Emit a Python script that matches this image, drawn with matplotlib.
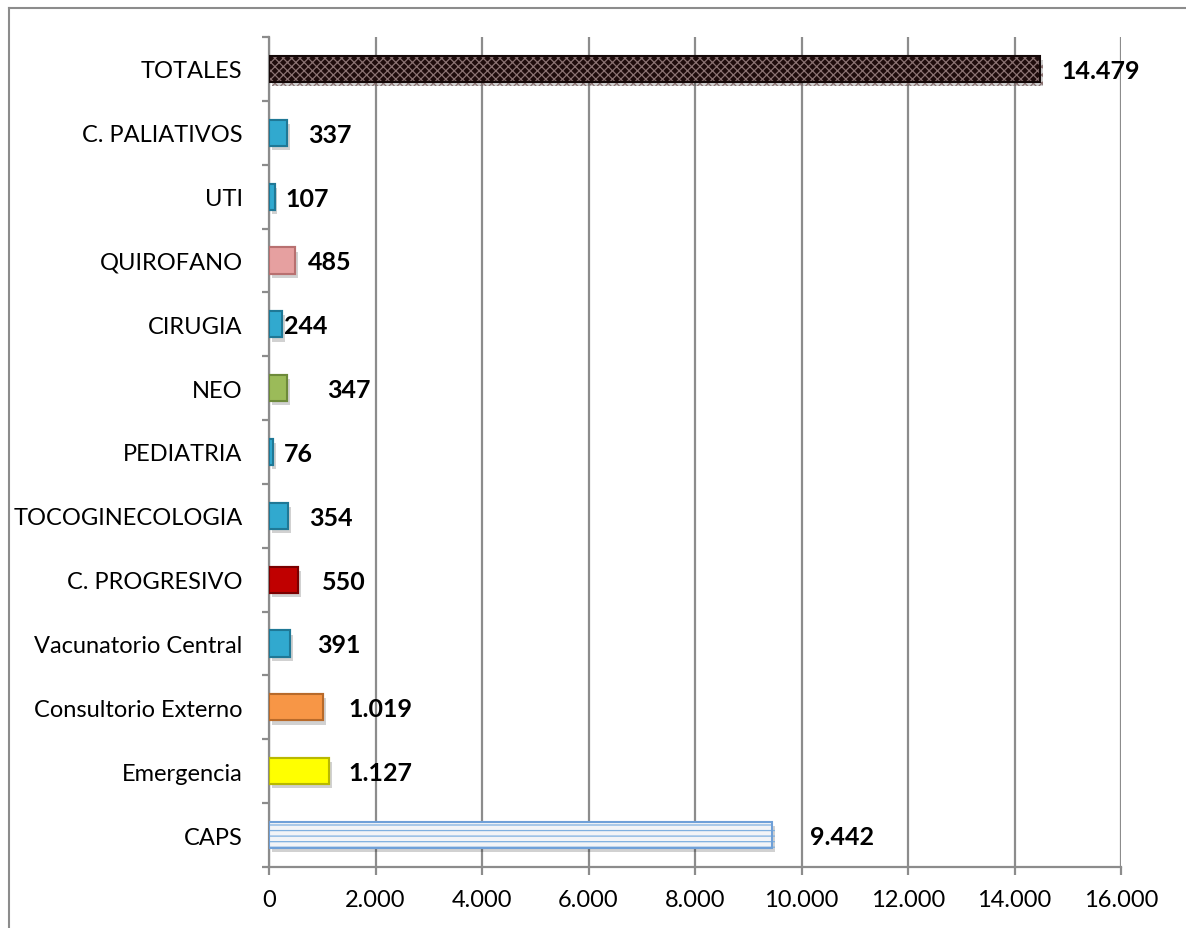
import matplotlib
matplotlib.use("Agg")
import matplotlib.pyplot as plt
import matplotlib.patheffects as pe
from matplotlib.lines import Line2D
from matplotlib.ticker import FuncFormatter, FixedLocator

categories = ["CAPS", "Emergencia", "Consultorio Externo", "Vacunatorio Central",
              "C. PROGRESIVO", "TOCOGINECOLOGIA", "PEDIATRIA", "NEO", "CIRUGIA",
              "QUIROFANO", "UTI", "C. PALIATIVOS", "TOTALES"]
values = [9442, 1127, 1019, 391, 550, 354, 76, 347, 244, 485, 107, 337, 14479]
value_labels = ["9.442", "1.127", "1.019", "391", "550", "354", "76", "347", "244",
                "485", "107", "337", "14.479"]
x_ticks = [0, 2000, 4000, 6000, 8000, 10000, 12000, 14000, 16000]

# styles (not data)
face_colors = ["#f2f4f7", "#ffff00", "#f79646", "#31a9cf", "#c00000", "#31a9cf",
               "#31a9cf", "#9bbb59", "#31a9cf", "#e6a0a0", "#31a9cf", "#31a9cf", "#1e0c0c"]
edge_colors = ["#6fa0d8", "#b8b800", "#b86a2a", "#1f7896", "#7a0000", "#1f7896",
               "#1f7896", "#6d8a3a", "#1f7896", "#b87070", "#1f7896", "#1f7896", "#140808"]
hatch_colors = ["#7fb0e0", None, None, None, None, None, None, None, None, None, None, None, "#8a7272"]
hatches = ["---", None, None, None, None, None, None, None, None, None, None, None, "xxxx"]
label_offsets_px = [38, 19, 25, 27, 24, 21, 11, 40, 2, 13, 11, 21, 21]

W, H = 1186, 929
DPI = 100
plt.rcParams["font.family"] = ["Lato", "DejaVu Sans"]
plt.rcParams["hatch.linewidth"] = 0.9

fig = plt.figure(figsize=(W / DPI, H / DPI), dpi=DPI)
fig.patch.set_facecolor("white")
ax = fig.add_axes([269 / W, 1 - 868 / H, (1121 - 269) / W, (868 - 38) / H])

ypos = list(range(len(categories)))
shadow = [pe.withSimplePatchShadow(offset=(2, -3), shadow_rgbFace="#000000", alpha=0.18), pe.Normal()]
for y, v, fc, ec, h, hc in zip(ypos, values, face_colors, edge_colors, hatches, hatch_colors):
    if h is None:
        b = ax.barh(y, v, height=0.41, color=fc, edgecolor=ec, linewidth=1.5, zorder=3)
    else:
        b = ax.barh(y, v, height=0.41, color=fc, edgecolor=hc, linewidth=0, hatch=h, zorder=3)
        ax.barh(y, v, height=0.41, fill=False, edgecolor=ec, linewidth=1.5, zorder=3.5)
    for p in b:
        p.set_path_effects(shadow)

for y, v, lab, off in zip(ypos, values, value_labels, label_offsets_px):
    ax.annotate(lab, xy=(v, y), xytext=(off * 72 / DPI, -1), textcoords="offset points",
                ha="left", va="center", fontsize=18, fontweight="bold", color="black", zorder=5)

ax.set_xlim(0, 16000)
ax.set_ylim(-0.5, len(categories) - 0.5)
ax.xaxis.set_major_locator(FixedLocator(x_ticks))
ax.xaxis.set_major_formatter(FuncFormatter(lambda v, p: f"{int(v):,}".replace(",", ".")))
ax.set_yticks(ypos)
ax.set_yticklabels(categories)
ax.set_yticks([i - 0.5 for i in range(len(categories) + 1)], minor=True)

ax.grid(axis="x", color="#8c8c8c", linewidth=1.6, zorder=0)
ax.set_axisbelow(True)
for s in ["top", "right"]:
    ax.spines[s].set_visible(False)
for s in ["left", "bottom"]:
    ax.spines[s].set_color("#8c8c8c")
    ax.spines[s].set_linewidth(1.6)

ax.tick_params(axis="y", which="major", length=0, pad=19, labelsize=17, labelcolor="black")
ax.tick_params(axis="y", which="minor", length=7 * 72 / DPI, width=1.6, color="#8c8c8c", direction="out")
ax.tick_params(axis="x", which="major", length=8 * 72 / DPI, width=1.6, color="#8c8c8c",
               direction="out", pad=10, labelsize=17, labelcolor="black")

# outer chart frame (left and top edges visible)
fx, fy = 9 / W, 1 - 9 / H
fig.add_artist(Line2D([fx, fx], [0, fy], transform=fig.transFigure, color="#8c8c8c", linewidth=1.5))
fig.add_artist(Line2D([fx, 1], [fy, fy], transform=fig.transFigure, color="#8c8c8c", linewidth=1.5))

fig.savefig("out.png", dpi=DPI)
